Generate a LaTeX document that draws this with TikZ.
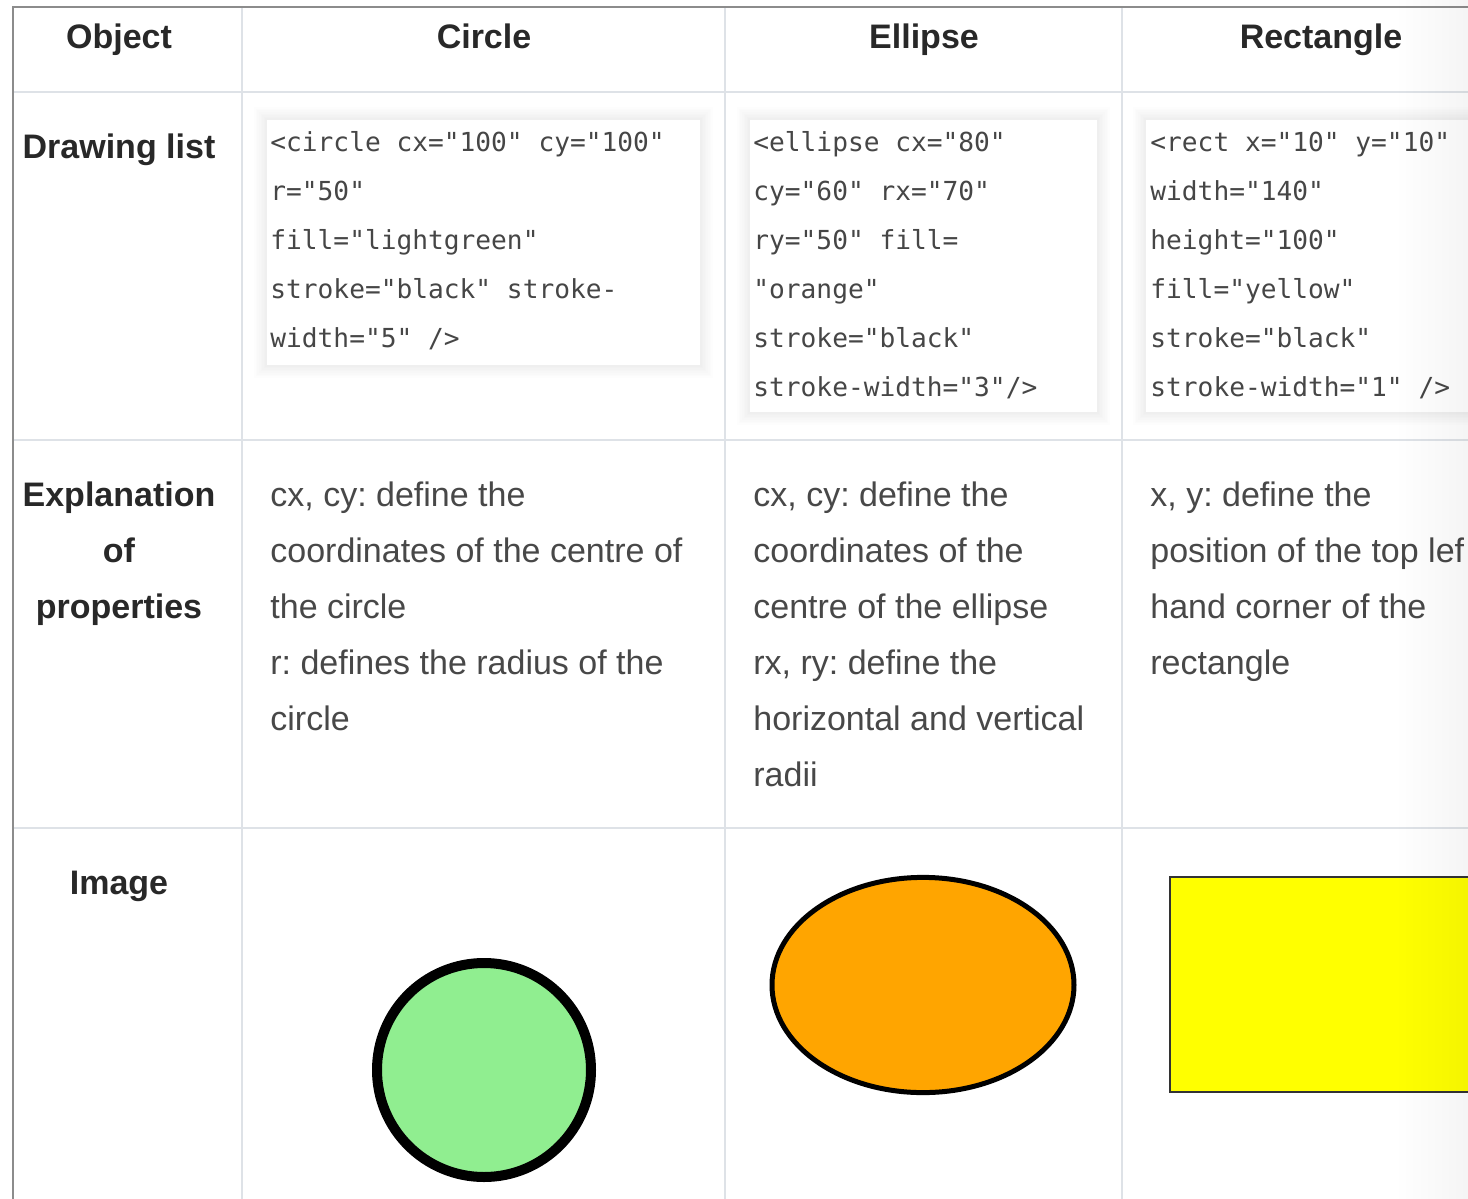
\documentclass[tikz,border=0pt]{standalone}
\usepackage{fontspec}
\setmainfont{Liberation Sans}
\newfontfamily\codefont{DejaVu Sans Mono}
\frenchspacing
\definecolor{gridc}{RGB}{222,226,231}
\definecolor{borderc}{RGB}{140,140,140}
\definecolor{headc}{RGB}{40,40,40}
\definecolor{bodyc}{RGB}{72,72,72}
\definecolor{codec}{RGB}{70,70,70}
\definecolor{lgreen}{RGB}{144,238,144}
\definecolor{orng}{RGB}{255,165,0}
\definecolor{yell}{RGB}{255,255,0}
\tikzset{
  headtxt/.style={font=\fontsize{17pt}{20pt}\selectfont\bfseries, text=headc, inner sep=0pt, anchor=base},
  bodytxt/.style={font=\fontsize{17pt}{20pt}\selectfont, text=bodyc, inner sep=0pt, anchor=base west},
  codetxt/.style={font=\fontsize{13.1pt}{16pt}\selectfont\codefont, text=codec, inner sep=0pt, anchor=base west},
  gridline/.style={draw=gridc, line width=1pt},
}
\begin{document}
\begin{tikzpicture}[x=0.5pt, y=-0.5pt]
\useasboundingbox (0,0) rectangle (1468,1199);
\clip (0,0) rectangle (1468,1199);
\fill[white] (0,0) rectangle (1468,1199);
% grid
\draw[gridline] (13,92) -- (1468,92);
\draw[gridline] (13,440) -- (1468,440);
\draw[gridline] (13,828) -- (1468,828);
\draw[gridline] (242,7) -- (242,1199);
\draw[gridline] (725,7) -- (725,1199);
\draw[gridline] (1122,7) -- (1122,1199);
% outer border
\draw[borderc, line width=1pt] (13,1199) -- (13,7) -- (1468,7);
% headers
\node[headtxt] (hobj) at (119,48) {Object};
\node[headtxt] (hcir) at (484,48) {Circle};
\node[headtxt] (hell) at (924,48) {Ellipse};
\node[headtxt] (hrec) at (1321,48) {Rectangle};
% row labels
\node[headtxt] (ldraw) at (119,158) {Drawing list};
\node[headtxt] (lexp1) at (119,506) {Explanation};
\node[headtxt] (lexp2) at (119,562) {of};
\node[headtxt] (lexp3) at (119,618) {properties};
\node[headtxt] (limg) at (119,894) {Image};
% code boxes with soft shadow
\foreach \xa/\ya/\xb/\yb in {267/120/700/365, 750/120/1097/412, 1146/120/1520/412}{
  \foreach \k in {1,...,8}{
    \fill[black, opacity=0.006] (\xa-\k*1.6,\ya-\k*1.6) rectangle (\xb+\k*1.6,\yb+\k*1.6);
  }
  \fill[white] (\xa,\ya) rectangle (\xb,\yb);
}
% code text
\foreach \t [count=\i] in {{<circle cx="100" cy="100"},{r="50"},{fill="lightgreen"},{stroke="black" stroke-},{width="5" />}}{
  \node[codetxt] (cc\i) at (270,{102+49*\i}) {\t};
}
\foreach \t [count=\i] in {{<ellipse cx="80"},{cy="60" rx="70"},{ry="50" fill=},{"orange"},{stroke="black"},{stroke-width="3"/>}}{
  \node[codetxt] (ce\i) at (753,{102+49*\i}) {\t};
}
\foreach \t [count=\i] in {{<rect x="10" y="10"},{width="140"},{height="100"},{fill="yellow"},{stroke="black"},{stroke-width="1" />}}{
  \node[codetxt] (cr\i) at (1150,{102+49*\i}) {\t};
}
% explanation text
\foreach \t [count=\i] in {{cx, cy: define the},{coordinates of the centre of},{the circle},{r: defines the radius of the},{circle}}{
  \node[bodytxt] (ec\i) at (270,{450+56*\i}) {\t};
}
\foreach \t [count=\i] in {{cx, cy: define the},{coordinates of the},{centre of the ellipse},{rx, ry: define the},{horizontal and vertical},{radii}}{
  \node[bodytxt] (ee\i) at (753,{450+56*\i}) {\t};
}
\foreach \t [count=\i] in {{x, y: define the},{position of the top lef},{hand corner of the},{rectangle}}{
  \node[bodytxt] (er\i) at (1150,{450+56*\i}) {\t};
}
% images
\draw[black, line width=5pt, fill=lgreen] (484,1070) circle [radius=53.5pt];
\draw[black, line width=2.5pt, fill=orng] (923,985) ellipse [x radius=75.5pt, y radius=53.8pt];
\draw[black!80, line width=1.3pt, fill=yell] (1170,877) rectangle (1520,1092);
% right edge fade
\shade[left color=white, right color=black!4, blend mode=multiply] (1395,0) rectangle (1468,1199);
\end{tikzpicture}
\end{document}
